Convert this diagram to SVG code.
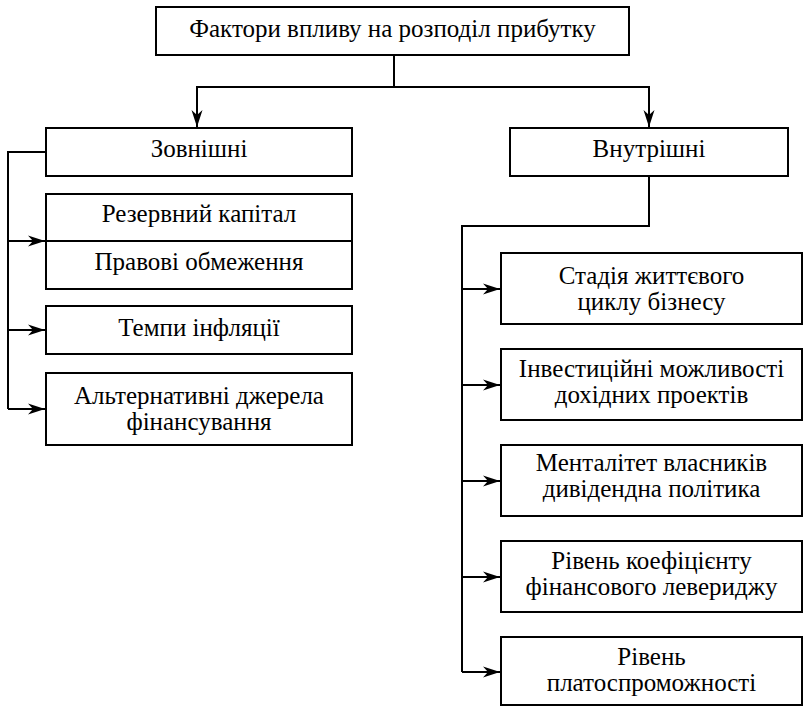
<svg xmlns="http://www.w3.org/2000/svg" width="804" height="707" viewBox="0 0 804 707">
<defs>
<style>
.box{fill:#fff;stroke:#000;stroke-width:2}
.c{fill:none;stroke:#000;stroke-width:2}
</style>
<marker id="ah" markerUnits="userSpaceOnUse" markerWidth="18" markerHeight="12" refX="17" refY="6" orient="auto" viewBox="0 0 18 12">
<path d="M0,0.5 L17,6 L0,11.5 L5,6 Z" fill="#000"/>
</marker>
</defs>
<rect width="804" height="707" fill="#fff"/>
<g id="connectors">
<path class="c" d="M394,55 V87"/>
<path class="c" d="M196,87 H650"/>
<path class="c" d="M197,87 V127" marker-end="url(#ah)"/>
<path class="c" d="M649,87 V127" marker-end="url(#ah)"/>
<path class="c" d="M46,152 H8 V409"/>
<path class="c" d="M8,241 H45" marker-end="url(#ah)"/>
<path class="c" d="M8,330 H45" marker-end="url(#ah)"/>
<path class="c" d="M8,409 H45" marker-end="url(#ah)"/>
<path class="c" d="M649,176 V226 H462 V672"/>
<path class="c" d="M462,289 H500" marker-end="url(#ah)"/>
<path class="c" d="M462,385 H500" marker-end="url(#ah)"/>
<path class="c" d="M462,481 H500" marker-end="url(#ah)"/>
<path class="c" d="M462,577 H500" marker-end="url(#ah)"/>
<path class="c" d="M462,672 H500" marker-end="url(#ah)"/>
</g>
<g id="root">
<rect class="box" x="156" y="7" width="473" height="48"/>
<text font-family="Liberation Serif" font-size="25" text-anchor="middle" x="392.5" y="36.5">Фактори впливу на розподіл прибутку</text>
</g>
<g id="external">
<rect class="box" x="46" y="128" width="306" height="48"/>
<text font-family="Liberation Serif" font-size="25" text-anchor="middle" x="199" y="157">Зовнішні</text>
</g>
<g id="internal">
<rect class="box" x="510" y="128" width="278" height="48"/>
<text font-family="Liberation Serif" font-size="25" text-anchor="middle" x="649" y="157">Внутрішні</text>
</g>
<g id="reserve">
<rect class="box" x="46" y="194" width="306" height="47"/>
<text font-family="Liberation Serif" font-size="25" text-anchor="middle" x="199" y="222">Резервний капітал</text>
</g>
<g id="legal">
<rect class="box" x="46" y="241" width="306" height="48"/>
<text font-family="Liberation Serif" font-size="25" text-anchor="middle" x="199" y="270">Правові обмеження</text>
</g>
<g id="inflation">
<rect class="box" x="46" y="306" width="306" height="48"/>
<text font-family="Liberation Serif" font-size="25" text-anchor="middle" x="199" y="336">Темпи інфляції</text>
</g>
<g id="alternative">
<rect class="box" x="46" y="373" width="306" height="72"/>
<text font-family="Liberation Serif" font-size="25" text-anchor="middle" x="199" y="404">Альтернативні джерела</text>
<text font-family="Liberation Serif" font-size="25" text-anchor="middle" x="199" y="430">фінансування</text>
</g>
<g id="lifecycle">
<rect class="box" x="501" y="253" width="301" height="71"/>
<text font-family="Liberation Serif" font-size="25" text-anchor="middle" x="651.5" y="284">Стадія життєвого</text>
<text font-family="Liberation Serif" font-size="25" text-anchor="middle" x="651.5" y="310">циклу бізнесу</text>
</g>
<g id="investment">
<rect class="box" x="501" y="349" width="301" height="71"/>
<text font-family="Liberation Serif" font-size="25" text-anchor="middle" x="651.5" y="377">Інвестиційні можливості</text>
<text font-family="Liberation Serif" font-size="25" text-anchor="middle" x="651.5" y="403">дохідних проектів</text>
</g>
<g id="mentality">
<rect class="box" x="501" y="445" width="301" height="71"/>
<text font-family="Liberation Serif" font-size="25" text-anchor="middle" x="651.5" y="471">Менталітет власників</text>
<text font-family="Liberation Serif" font-size="25" text-anchor="middle" x="651.5" y="497">дивідендна політика</text>
</g>
<g id="leverage">
<rect class="box" x="501" y="541" width="301" height="71"/>
<text font-family="Liberation Serif" font-size="25" text-anchor="middle" x="651.5" y="569">Рівень коефіцієнту</text>
<text font-family="Liberation Serif" font-size="25" text-anchor="middle" x="651.5" y="595">фінансового левериджу</text>
</g>
<g id="solvency">
<rect class="box" x="501" y="637" width="301" height="68"/>
<text font-family="Liberation Serif" font-size="25" text-anchor="middle" x="651.5" y="665">Рівень</text>
<text font-family="Liberation Serif" font-size="25" text-anchor="middle" x="651.5" y="691">платоспроможності</text>
</g>
</svg>
